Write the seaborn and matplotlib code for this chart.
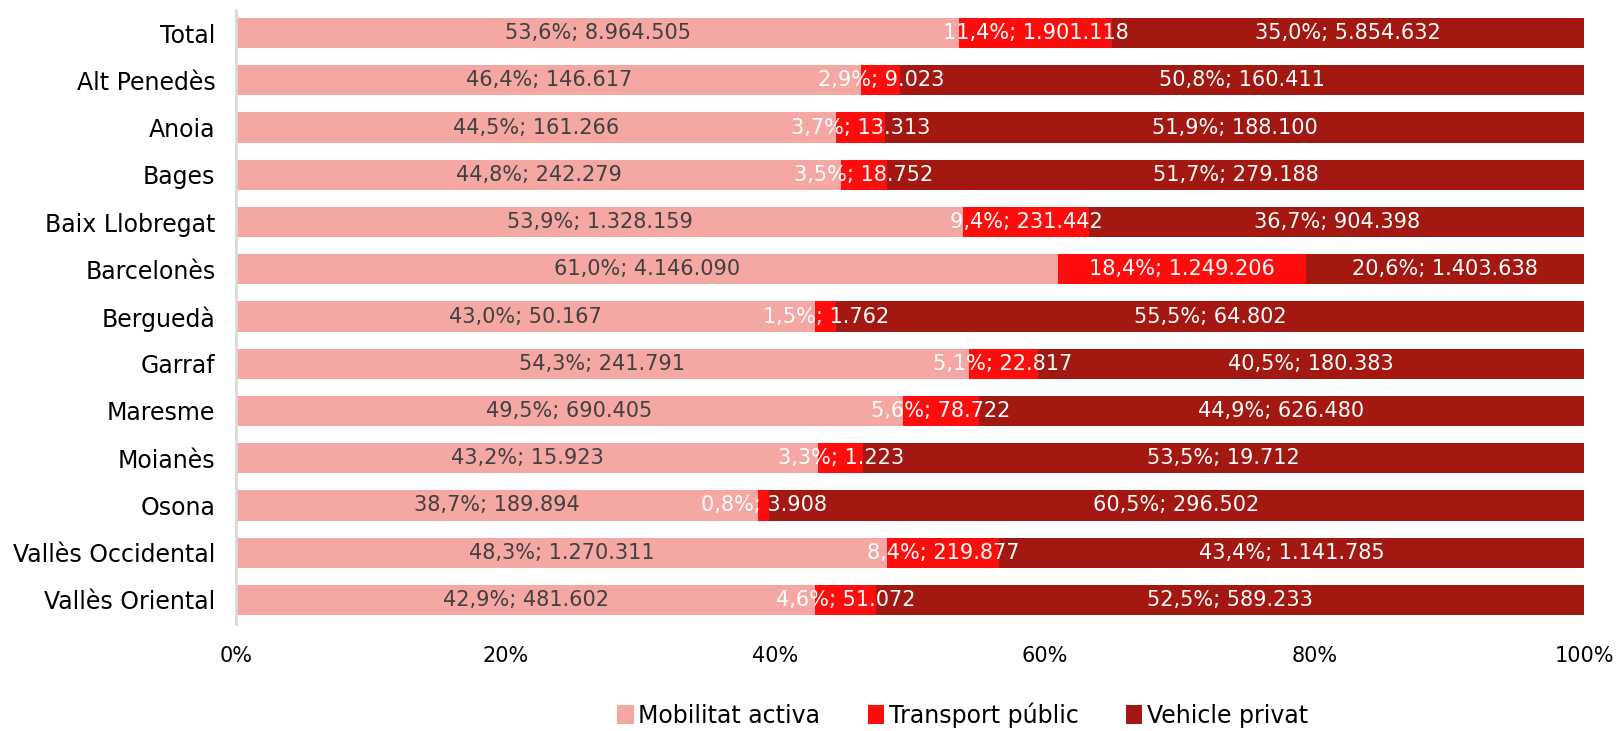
import numpy as np
import pandas as pd
import matplotlib
matplotlib.use("Agg")
import matplotlib.pyplot as plt
import seaborn as sns
from matplotlib.patches import Patch

# --- DATEN ---
comarques = ["Total", "Alt Penedès", "Anoia", "Bages", "Baix Llobregat", "Barcelonès",
             "Berguedà", "Garraf", "Maresme", "Moianès", "Osona",
             "Vallès Occidental", "Vallès Oriental"]
activa = [8964505, 146617, 161266, 242279, 1328159, 4146090,
          50167, 241791, 690405, 15923, 189894, 1270311, 481602]
public = [1901118, 9023, 13313, 18752, 231442, 1249206,
          1762, 22817, 78722, 1223, 3908, 219877, 51072]
privat = [5854632, 160411, 188100, 279188, 904398, 1403638,
          64802, 180383, 626480, 19712, 296502, 1141785, 589233]
pct_activa = ["53,6%", "46,4%", "44,5%", "44,8%", "53,9%", "61,0%",
              "43,0%", "54,3%", "49,5%", "43,2%", "38,7%", "48,3%", "42,9%"]
pct_public = ["11,4%", "2,9%", "3,7%", "3,5%", "9,4%", "18,4%",
              "1,5%", "5,1%", "5,6%", "3,3%", "0,8%", "8,4%", "4,6%"]
pct_privat = ["35,0%", "50,8%", "51,9%", "51,7%", "36,7%", "20,6%",
              "55,5%", "40,5%", "44,9%", "53,5%", "60,5%", "43,4%", "52,5%"]
series = ["Mobilitat activa", "Transport públic", "Vehicle privat"]
colors = ["#F4A7A3", "#FF0D0D", "#A31811"]

df = pd.DataFrame({"comarca": comarques, "activa": activa,
                   "public": public, "privat": privat})
tot = df[["activa", "public", "privat"]].sum(axis=1)
df["s1"] = df["activa"] / tot
df["s2"] = df["public"] / tot
df["s3"] = df["privat"] / tot
df["c2"] = df["s1"] + df["s2"]
df["c3"] = df["c2"] + df["s3"]


def fmt_num(n):
    return f"{n:,}".replace(",", ".")


fig = plt.figure(figsize=(16.18, 7.31), dpi=100)
ax = fig.add_axes([0.146, 0.147, 0.833, 0.840])

# gestapelte Balken: von hinten nach vorne
sns.barplot(data=df, y="comarca", x="c3", color=colors[2], width=0.64,
            orient="h", ax=ax, saturation=1)
sns.barplot(data=df, y="comarca", x="c2", color=colors[1], width=0.64,
            orient="h", ax=ax, saturation=1)
sns.barplot(data=df, y="comarca", x="s1", color=colors[0], width=0.64,
            orient="h", ax=ax, saturation=1)

# --- Beschriftungen ---
for i, row in df.iterrows():
    ax.text(row["s1"] / 2, i, f"{pct_activa[i]}; {fmt_num(row['activa'])}",
            ha="center", va="center", fontsize=15, color="#404040")
    ax.text(row["s1"] + row["s2"] / 2, i, f"{pct_public[i]}; {fmt_num(row['public'])}",
            ha="center", va="center", fontsize=15, color="white")
    ax.text(row["c2"] + row["s3"] / 2, i, f"{pct_privat[i]}; {fmt_num(row['privat'])}",
            ha="center", va="center", fontsize=15, color="white")

ax.set_xlim(0, 1)
ax.set_ylim(12.5, -0.5)
ax.set_xticks(np.arange(0, 1.01, 0.2))
ax.set_xticklabels([f"{int(v*100)}%" for v in np.arange(0, 1.01, 0.2)], fontsize=15)
ax.tick_params(axis="x", length=0, pad=16)
ax.tick_params(axis="y", length=0, labelsize=17, pad=15, labelcolor="black")
ax.set_xlabel("")
ax.set_ylabel("")
for s in ["top", "right", "bottom"]:
    ax.spines[s].set_visible(False)
ax.spines["left"].set_color("#D9D9D9")
ax.spines["left"].set_linewidth(2)

handles = [Patch(facecolor=c, label=l) for c, l in zip(colors, series)]
fig.legend(handles=handles, loc="center", bbox_to_anchor=(0.595, 0.022), ncol=3,
           frameon=False, fontsize=17, handlelength=0.7, handleheight=0.9,
           handletextpad=0.2, columnspacing=2.0)

fig.savefig("out.png", dpi=100)
